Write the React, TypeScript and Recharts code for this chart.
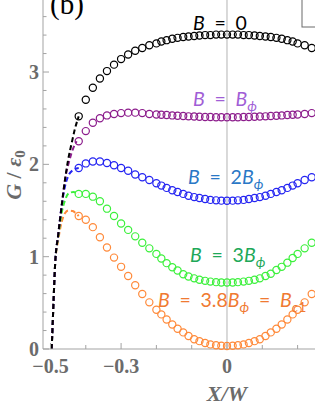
import React from 'react';
import { ComposedChart, Line, Scatter, XAxis, YAxis, ReferenceLine } from 'recharts';

// x positions (X/W) of the sampled points
const xGrid = [
  -0.42, -0.4, -0.38, -0.36, -0.34, -0.32, -0.3, -0.28, -0.26, -0.24, -0.22, -0.2,
  -0.186, -0.171, -0.155, -0.14, -0.124, -0.109, -0.093, -0.078, -0.062, -0.047, -0.031, -0.016,
  0,
  0.016, 0.031, 0.047, 0.062, 0.078, 0.093, 0.109, 0.124, 0.14, 0.155, 0.171, 0.186,
  0.2, 0.22, 0.24,
];

// G / eps0 for each field
const gB0 = [
  2.52, 2.7, 2.83, 2.93, 3.01, 3.08, 3.14, 3.19, 3.23, 3.26, 3.29, 3.31,
  3.33, 3.345, 3.36, 3.37, 3.38, 3.385, 3.39, 3.395, 3.4, 3.4, 3.405, 3.405,
  3.405,
  3.405, 3.405, 3.4, 3.4, 3.395, 3.39, 3.385, 3.38, 3.37, 3.36, 3.345, 3.33,
  3.31, 3.29, 3.26,
];
const gBphi = [
  2.25, 2.36, 2.45, 2.5, 2.53, 2.545, 2.555, 2.56, 2.56, 2.555, 2.545, 2.54,
  2.537, 2.534, 2.53, 2.527, 2.524, 2.52, 2.518, 2.515, 2.513, 2.512, 2.51, 2.51,
  2.51,
  2.51, 2.51, 2.512, 2.513, 2.515, 2.518, 2.52, 2.524, 2.527, 2.53, 2.534, 2.537,
  2.54, 2.545, 2.555,
];
const g2Bphi = [
  1.96, 2.01, 2.03, 2.03, 2.015, 1.99, 1.96, 1.93, 1.89, 1.86, 1.83, 1.795,
  1.77, 1.745, 1.72, 1.7, 1.68, 1.66, 1.645, 1.635, 1.625, 1.615, 1.61, 1.607,
  1.605,
  1.607, 1.61, 1.615, 1.625, 1.635, 1.645, 1.66, 1.68, 1.7, 1.72, 1.745, 1.77,
  1.795, 1.83, 1.86,
];
const g3Bphi = [
  1.68, 1.68, 1.65, 1.6, 1.52, 1.44, 1.36, 1.29, 1.22, 1.15, 1.09, 1.03,
  0.98, 0.93, 0.885, 0.85, 0.81, 0.785, 0.765, 0.75, 0.738, 0.73, 0.724, 0.72,
  0.72,
  0.72, 0.724, 0.73, 0.738, 0.75, 0.765, 0.79, 0.815, 0.855, 0.89, 0.935, 0.985,
  1.03, 1.09, 1.15,
];
const gBc1 = [
  1.44, 1.4, 1.32, 1.21, 1.1, 0.99, 0.89, 0.79, 0.69, 0.595, 0.505, 0.425,
  0.375, 0.32, 0.265, 0.22, 0.18, 0.14, 0.105, 0.085, 0.065, 0.05, 0.04, 0.035,
  0.033,
  0.035, 0.04, 0.05, 0.065, 0.085, 0.105, 0.14, 0.18, 0.22, 0.265, 0.32, 0.375,
  0.425, 0.505, 0.595,
];

// dashed edge curves
const dashB0X = [-0.4966, -0.4935, -0.4905, -0.487, -0.478, -0.468, -0.459, -0.45, -0.44, -0.431, -0.42];
const dashB0Y = [0, 0.3, 0.6, 0.91, 1.24, 1.56, 1.83, 2.05, 2.23, 2.38, 2.52];
const dashBphiX = [-0.4966, -0.4935, -0.4905, -0.487, -0.478, -0.468, -0.459, -0.448, -0.437, -0.426];
const dashBphiY = [0, 0.3, 0.6, 0.91, 1.24, 1.56, 1.83, 2.02, 2.16, 2.25];
const dash2X = [-0.4966, -0.4935, -0.4905, -0.487, -0.478, -0.468, -0.459, -0.45, -0.435, -0.42];
const dash2Y = [0, 0.3, 0.6, 0.91, 1.24, 1.56, 1.76, 1.87, 1.94, 1.96];
const dash3X = [-0.4966, -0.4935, -0.4905, -0.487, -0.478, -0.468, -0.458, -0.447, -0.435, -0.42];
const dash3Y = [0, 0.3, 0.6, 0.91, 1.22, 1.48, 1.62, 1.69, 1.7, 1.68];
const dashC1X = [-0.4966, -0.4935, -0.4905, -0.487, -0.478, -0.468, -0.459, -0.449, -0.437, -0.428, -0.42];
const dashC1Y = [0, 0.3, 0.6, 0.91, 1.18, 1.38, 1.47, 1.5, 1.495, 1.47, 1.44];

const xTicks = [-0.5, -0.4, -0.3, -0.2, -0.1, 0, 0.1, 0.2];
const xMajor = [-0.5, -0.3, 0];
const yTicks = [0, 0.2, 0.4, 0.6, 0.8, 1, 1.2, 1.4, 1.6, 1.8, 2, 2.2, 2.4, 2.6, 2.8, 3, 3.2, 3.4, 3.6];
const yMajor = [0, 1, 2, 3];

const pts = (ys: number[]) => xGrid.map((x, i) => ({ x, y: ys[i] }));
const line = (xs: number[], ys: number[]) => xs.map((x, i) => ({ x, y: ys[i] }));

const axisColor = '#a3a3a3';
const labelColor = '#6b6b6b';
const serif = '"Liberation Serif", "Times New Roman", serif';
const sans = 'Lato, "Liberation Sans", "DejaVu Sans", sans-serif';

const fmt = (v: number) => (v < 0 ? '\u2212' + String(Math.abs(v)) : String(v));
const isIn = (arr: number[], v: number) => arr.some((m) => Math.abs(m - v) < 1e-9);

const XTick = (props: any) => {
  const { x, y, payload } = props;
  const v = payload.value;
  const major = isIn(xMajor, v);
  return (
    <g>
      <line x1={x} x2={x} y1={y} y2={y - (major ? 6 : 4)} stroke={axisColor} strokeWidth={1} />
      {major && (
        <text x={x} y={y + 24} textAnchor="middle" fontFamily={serif} fontWeight="bold" fontSize={20} fill={labelColor}>
          {fmt(v)}
        </text>
      )}
    </g>
  );
};

const YTick = (props: any) => {
  const { x, y, payload } = props;
  const v = payload.value;
  const major = isIn(yMajor, v);
  return (
    <g>
      <line x1={x} x2={x + (major ? 6 : 3.5)} y1={y} y2={y} stroke={axisColor} strokeWidth={1} />
      {major && (
        <text x={x - 4} y={y} dy="0.35em" textAnchor="end" fontFamily={serif} fontWeight="bold" fontSize={20} fill={labelColor}>
          {fmt(v)}
        </text>
      )}
    </g>
  );
};

const ring = (color: string) => (props: any) => (
  <circle cx={props.cx} cy={props.cy} r={3.6} fill="none" stroke={color} strokeWidth={1.2} />
);

const C = {
  b0: '#000000',
  bphi: '#8c1c8c',
  b2: '#2424f2',
  b3: '#3cf03c',
  bc1: '#ff8a3a',
};

export default function App() {
  return (
    <div style={{ position: 'absolute', left: 0, top: 0, width: 315, height: 407, background: '#fff', overflow: 'hidden' }}>
      <ComposedChart width={315} height={407} margin={{ top: 0, right: 0, bottom: 0, left: 0 }}>
        <XAxis
          type="number"
          dataKey="x"
          domain={[-0.5212, 0.2493]}
          ticks={xTicks}
          interval={0}
          tickSize={0}
          tickMargin={0}
          tickLine={false}
          tick={<XTick />}
          axisLine={{ stroke: axisColor }}
          height={58}
        />
        <YAxis
          type="number"
          dataKey="y"
          domain={[0, 3.78]}
          ticks={yTicks}
          interval={0}
          tickSize={0}
          tickMargin={0}
          tickLine={false}
          tick={<YTick />}
          axisLine={{ stroke: axisColor }}
          width={43}
        />
        <ReferenceLine x={0} stroke="#b4b4b4" strokeWidth={1} />
        <Scatter data={pts(gB0)} dataKey="y" shape={ring(C.b0)} isAnimationActive={false} />
        <Scatter data={pts(gBphi)} dataKey="y" shape={ring(C.bphi)} isAnimationActive={false} />
        <Scatter data={pts(g2Bphi)} dataKey="y" shape={ring(C.b2)} isAnimationActive={false} />
        <Scatter data={pts(g3Bphi)} dataKey="y" shape={ring(C.b3)} isAnimationActive={false} />
        <Scatter data={pts(gBc1)} dataKey="y" shape={ring(C.bc1)} isAnimationActive={false} />
        <Line data={line(dashC1X, dashC1Y)} dataKey="y" type="monotone" stroke={C.bc1} strokeWidth={2} strokeDasharray="5 3" dot={false} isAnimationActive={false} />
        <Line data={line(dash3X, dash3Y)} dataKey="y" type="monotone" stroke={C.b3} strokeWidth={2} strokeDasharray="5 3" dot={false} isAnimationActive={false} />
        <Line data={line(dash2X, dash2Y)} dataKey="y" type="monotone" stroke={C.b2} strokeWidth={2} strokeDasharray="5 3" dot={false} isAnimationActive={false} />
        <Line data={line(dashBphiX, dashBphiY)} dataKey="y" type="monotone" stroke={C.bphi} strokeWidth={2} strokeDasharray="5 3" dot={false} isAnimationActive={false} />
        <Line data={line(dashB0X, dashB0Y)} dataKey="y" type="monotone" stroke={C.b0} strokeWidth={2} strokeDasharray="5 3" dot={false} isAnimationActive={false} />
      </ComposedChart>
      <svg width={315} height={407} style={{ position: 'absolute', left: 0, top: 0, pointerEvents: 'none' }}>
        <text x={50} y={14} fontFamily={serif} fontSize={29} fill="#000">(b)</text>
        <rect x={302} y={-5} width={40} height={32} fill="#fff" stroke="#6a6a6a" strokeWidth={1} />
        <text x={227} y={401} textAnchor="middle" fontFamily={serif} fontWeight="bold" fontStyle="italic" fontSize={22} fill={labelColor}>X/W</text>
        <text x={21} y={175} transform="rotate(-90 21 175)" textAnchor="middle" fontFamily={serif} fontWeight="bold" fontSize={22} fill={labelColor}>
          <tspan fontStyle="italic">G</tspan>
          <tspan>{' / '}</tspan>
          <tspan fontStyle="italic">ε</tspan>
          <tspan fontSize={15} dy={4}>0</tspan>
        </text>
        <g fontFamily={sans} fontSize={19.5}>
          <text x={193} y={29.5} fill="#000">
            <tspan fontStyle="italic">B</tspan>
            <tspan>{'\u2002=\u20020'}</tspan>
          </text>
          <text x={193} y={105.5} fill="#a15ed6">
            <tspan fontStyle="italic">B</tspan>
            <tspan>{'\u2002=\u2002'}</tspan>
            <tspan fontStyle="italic">B</tspan>
            <tspan fontStyle="italic" fontSize={14} dy={5}>ϕ</tspan>
          </text>
          <text x={188} y={183.5} fill="#2a78c6">
            <tspan fontStyle="italic">B</tspan>
            <tspan>{'\u2002=\u20022'}</tspan>
            <tspan fontStyle="italic">B</tspan>
            <tspan fontStyle="italic" fontSize={14} dy={5}>ϕ</tspan>
          </text>
          <text x={190} y={262} fill="#20a858">
            <tspan fontStyle="italic">B</tspan>
            <tspan>{'\u2002=\u20023'}</tspan>
            <tspan fontStyle="italic">B</tspan>
            <tspan fontStyle="italic" fontSize={14} dy={5}>ϕ</tspan>
          </text>
          <text x={158} y={306.7} fill="#f07a32">
            <tspan fontStyle="italic">B</tspan>
            <tspan>{'\u2002=\u20023.8'}</tspan>
            <tspan fontStyle="italic">B</tspan>
            <tspan fontStyle="italic" fontSize={14} dy={5}>ϕ</tspan>
            <tspan dy={-5}>{'\u2002=\u2002'}</tspan>
            <tspan fontStyle="italic">B</tspan>
            <tspan fontStyle="italic" fontSize={14} dy={5}>c</tspan>
            <tspan fontSize={14}>1</tspan>
          </text>
        </g>
      </svg>
    </div>
  );
}
